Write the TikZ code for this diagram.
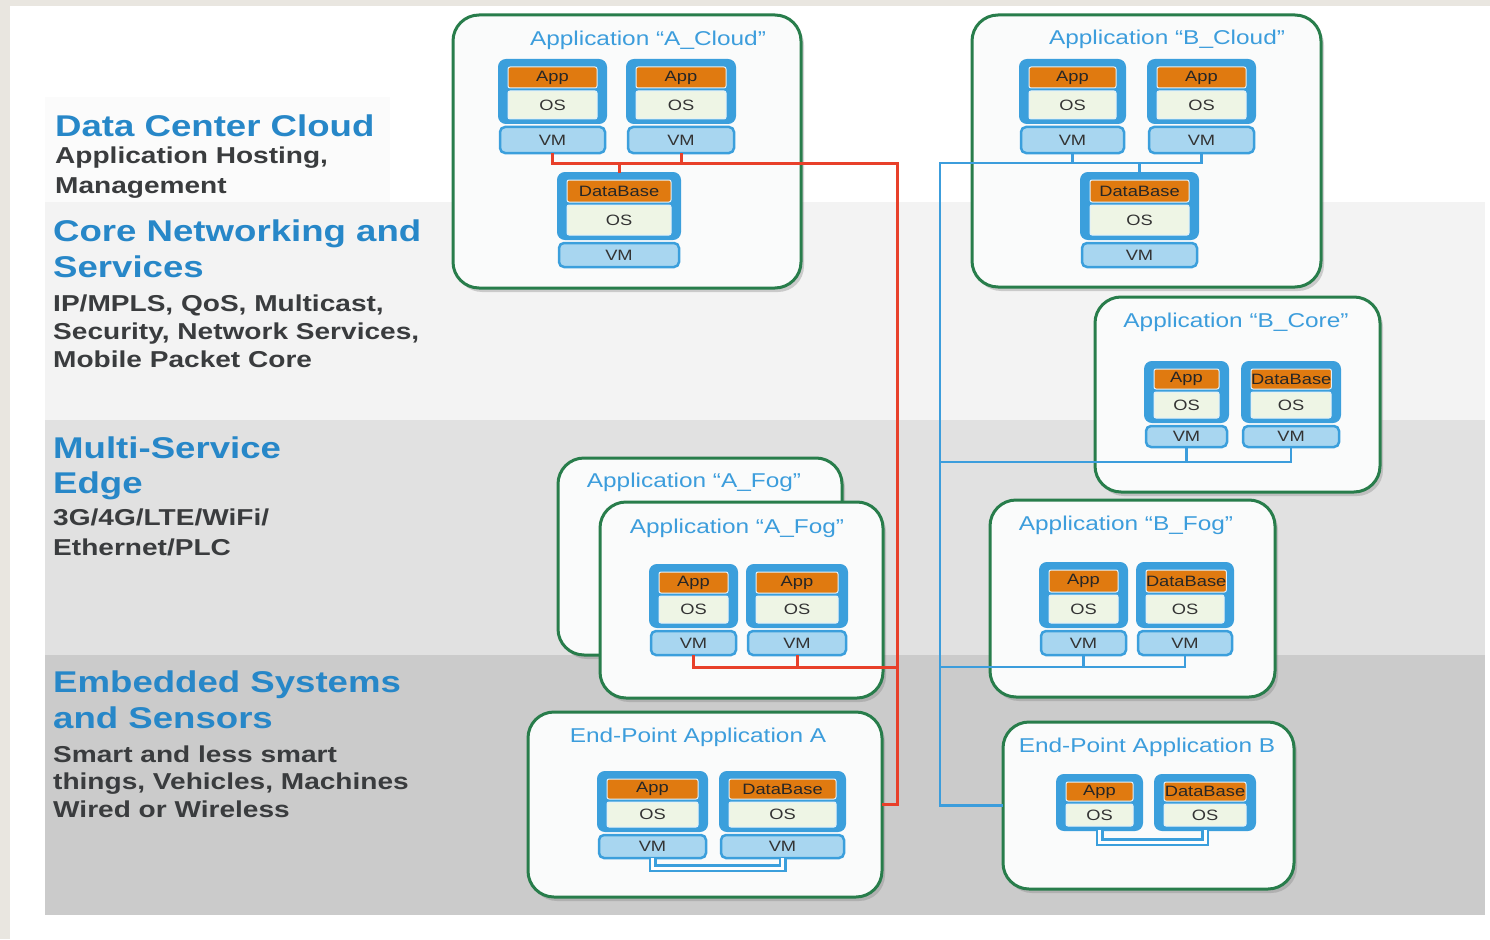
\documentclass[tikz,border=0pt]{standalone}
\usepackage{fontspec}
\setmainfont[FakeStretch=1.22]{Liberation Sans}
\usetikzlibrary{shadows}
\definecolor{beige}{RGB}{233,230,224}
\definecolor{bandA}{RGB}{243,243,243}
\definecolor{bandB}{RGB}{225,225,225}
\definecolor{bandC}{RGB}{203,203,203}
\definecolor{headblue}{RGB}{39,135,200}
\definecolor{titleblue}{RGB}{60,157,220}
\definecolor{subgray}{RGB}{58,60,62}
\definecolor{boxgreen}{RGB}{40,125,75}
\definecolor{boxfill}{RGB}{250,251,251}
\definecolor{frameblue}{RGB}{59,159,220}
\definecolor{apporange}{RGB}{224,122,16}
\definecolor{osgreen}{RGB}{238,245,229}
\definecolor{vmblue}{RGB}{168,214,240}
\definecolor{redline}{RGB}{232,64,42}
\definecolor{blueline}{RGB}{60,157,220}
\tikzset{
  head/.style={anchor=base west, inner sep=0, align=left, text=headblue,
    font=\bfseries\fontsize{30}{36}\selectfont},
  subtxt/.style={anchor=base west, inner sep=0, align=left, text=subgray,
    font=\bfseries\fontsize{23}{28}\selectfont},
  appboxst/.style={draw=boxgreen, line width=3pt, fill=boxfill, rounded corners=26pt,
    anchor=north west, inner sep=0, outer sep=0,
    drop shadow={shadow xshift=3pt, shadow yshift=-4pt, opacity=0.35}},
  titletext/.style={anchor=base, inner sep=0, text=titleblue, font=\fontsize{20}{24}\selectfont},
  stackframe/.style={draw=frameblue, fill=frameblue, line width=2pt, rounded corners=7pt,
    anchor=north west, inner sep=0, outer sep=0},
  appbar/.style={fill=apporange, draw=white!85!frameblue, line width=1pt, rounded corners=2pt,
    anchor=north west, inner sep=0, outer sep=0, text=black!85, font=\fontsize{15}{18}\selectfont},
  osbar/.style={fill=osgreen, draw=white!85!frameblue, line width=1pt, rounded corners=2pt,
    anchor=north west, inner sep=0, outer sep=0, text=black!80, font=\fontsize{15}{18}\selectfont},
  vmbar/.style={fill=vmblue, draw=frameblue, line width=2.5pt, rounded corners=5pt,
    anchor=north west, inner sep=0, outer sep=0, text=black!80, font=\fontsize{15}{18}\selectfont},
  redconn/.style={draw=redline, line width=3pt},
  blueconn/.style={draw=blueline, line width=2.5pt},
  bracket/.style={draw=frameblue, line width=2.5pt, double=white, double distance=3pt}
}
% #1 name, #2 x1, #3 x2, #4 top, #5 frame bottom, #6 top label, #7 VM bottom (0 = none)
\newcommand\vmstack[7]{%
  \pgfmathsetmacro\sw{#3-#2}%
  \pgfmathsetmacro\sh{#5-#4}%
  \pgfmathsetmacro\oh{round(0.34*\sh)}%
  \pgfmathsetmacro\osh{\sh-\oh-14}%
  \node[stackframe, minimum width=\sw pt, minimum height=\sh pt] (#1) at (#2,#4) {};
  \node[appbar, minimum width=\sw pt-18pt, minimum height=\oh pt] (#1-app) at (#2+9,#4+7) {#6};
  \node[osbar, minimum width=\sw pt-18pt, minimum height=\osh pt] (#1-os) at (#2+9,#4+\oh+10) {OS};
  \ifnum#7>0
    \pgfmathsetmacro\vh{#7-#5-4}%
    \node[vmbar, minimum width=\sw pt-2pt, minimum height=\vh pt] (#1-vm) at (#2+1,#5+4) {VM};
  \fi
}
% #1 name, #2 x1, #3 y1, #4 x2, #5 y2
\newcommand\appframe[5]{%
  \node[appboxst, minimum width={(#4-#2)*1pt}, minimum height={(#5-#3)*1pt}] (#1) at (#2,#3) {};
}
\begin{document}
\begin{tikzpicture}[x=1pt, y=-1pt]
\useasboundingbox (0,0) rectangle (1490,939);
% background
\fill[white] (0,0) rectangle (1490,939);
\fill[beige] (0,0) rectangle (10,939);
\fill[beige] (0,0) rectangle (1490,6);
\fill[white!98.5!black] (45,97) rectangle (390,202);
\fill[bandA] (45,202) rectangle (1485,420);
\fill[bandB] (45,420) rectangle (1485,655);
\fill[bandC] (45,655) rectangle (1485,915);
% left texts (multi-line nodes are anchored at the baseline of their last line)
\node[head] (dch) at (55,136) {Data Center Cloud};
\node[subtxt, font=\bfseries\fontsize{23}{30}\selectfont] (dcs) at (55,193) {Application Hosting,\\Management};
\node[head] (cnh) at (53,277) {Core Networking and\\Services};
\node[subtxt] (cns) at (53,367) {IP/MPLS, QoS, Multicast,\\Security, Network Services,\\Mobile Packet Core};
\node[head, font=\bfseries\fontsize{30}{35}\selectfont] (mseh) at (53,493) {Multi-Service\\Edge};
\node[subtxt, font=\bfseries\fontsize{23}{30}\selectfont] (mses) at (53,555) {3G/4G/LTE/WiFi/\\Ethernet/PLC};
\node[head] (esh) at (53,728) {Embedded Systems\\and Sensors};
\node[subtxt, font=\bfseries\fontsize{23}{27.5}\selectfont] (ess) at (53,817) {Smart and less smart\\things, Vehicles, Machines\\Wired or Wireless};
% application boxes
\appframe{acloud}{453}{15}{801}{288}
\appframe{bcloud}{972}{15}{1321}{287}
\appframe{bcore}{1095}{297}{1380}{492}
\appframe{afogb}{558}{458}{842}{655}
\appframe{afog}{600}{502}{883}{698}
\appframe{bfog}{990}{500}{1275}{697}
\appframe{epa}{528}{712}{882}{897}
\appframe{epb}{1003}{722}{1294}{889}
% titles
\node[titletext] (acloudT) at (648,46) {Application “A\_Cloud”};
\node[titletext] (bcloudT) at (1167,45) {Application “B\_Cloud”};
\node[titletext] (bcoreT) at (1236,327) {Application “B\_Core”};
\node[titletext] (afogbT) at (694,487) {Application “A\_Fog”};
\node[titletext] (afogT) at (737,533) {Application “A\_Fog”};
\node[titletext] (bfogT) at (1126,530) {Application “B\_Fog”};
\node[titletext] (epaT) at (698,742) {End-Point Application A};
\node[titletext] (epbT) at (1147,752) {End-Point Application B};
% stacks
\vmstack{ac1}{499}{606}{60}{123}{App}{153}
\vmstack{ac2}{627}{735}{60}{123}{App}{153}
\vmstack{acdb}{558}{680}{173}{239}{DataBase}{267}
\vmstack{bc1}{1020}{1125}{60}{123}{App}{153}
\vmstack{bc2}{1148}{1255}{60}{123}{App}{153}
\vmstack{bcdb}{1081}{1198}{173}{239}{DataBase}{267}
\vmstack{bk1}{1145}{1228}{362}{422}{App}{447}
\vmstack{bk2}{1242}{1340}{362}{422}{DataBase}{447}
\vmstack{af1}{650}{737}{565}{627}{App}{655}
\vmstack{af2}{747}{847}{565}{627}{App}{655}
\vmstack{bf1}{1040}{1127}{563}{627}{App}{655}
\vmstack{bf2}{1137}{1233}{563}{627}{DataBase}{655}
\vmstack{ea1}{598}{707}{772}{831}{App}{858}
\vmstack{ea2}{720}{845}{772}{831}{DataBase}{858}
\vmstack{eb1}{1057}{1142}{775}{830}{App}{0}
\vmstack{eb2}{1155}{1255}{775}{830}{DataBase}{0}
% local brackets
\draw[bracket] (ea1-vm.south) -- ++(0,10) -| (ea2-vm.south);
\draw[bracket] (eb1.south) -- ++(0,12) -| (eb2.south);
% red connector (application A)
\coordinate (rtop) at (897,163);
\coordinate (rfog) at (897,667);
\draw[redconn] (ac1-vm.south) |- (rtop) |- (epa.east);
\draw[redconn] (ac2-vm.south) -- (ac2-vm.south |- rtop);
\draw[redconn] (acdb.north) -- (acdb.north |- rtop);
\draw[redconn] (af1-vm.south) |- (rfog);
\draw[redconn] (af2-vm.south) -- (af2-vm.south |- rfog);
% blue connector (application B)
\coordinate (btop) at (940,163);
\coordinate (bcoreb) at (940,462);
\coordinate (bfogb) at (940,667);
\draw[blueconn] (bc2-vm.south) |- (btop) |- (epb.west);
\draw[blueconn] (bc1-vm.south) -- (bc1-vm.south |- btop);
\draw[blueconn] (bcdb.north) -- (bcdb.north |- btop);
\draw[blueconn] (bk2-vm.south) |- (bcoreb);
\draw[blueconn] (bk1-vm.south) -- (bk1-vm.south |- bcoreb);
\draw[blueconn] (bf2-vm.south) |- (bfogb);
\draw[blueconn] (bf1-vm.south) -- (bf1-vm.south |- bfogb);
\end{tikzpicture}
\end{document}
